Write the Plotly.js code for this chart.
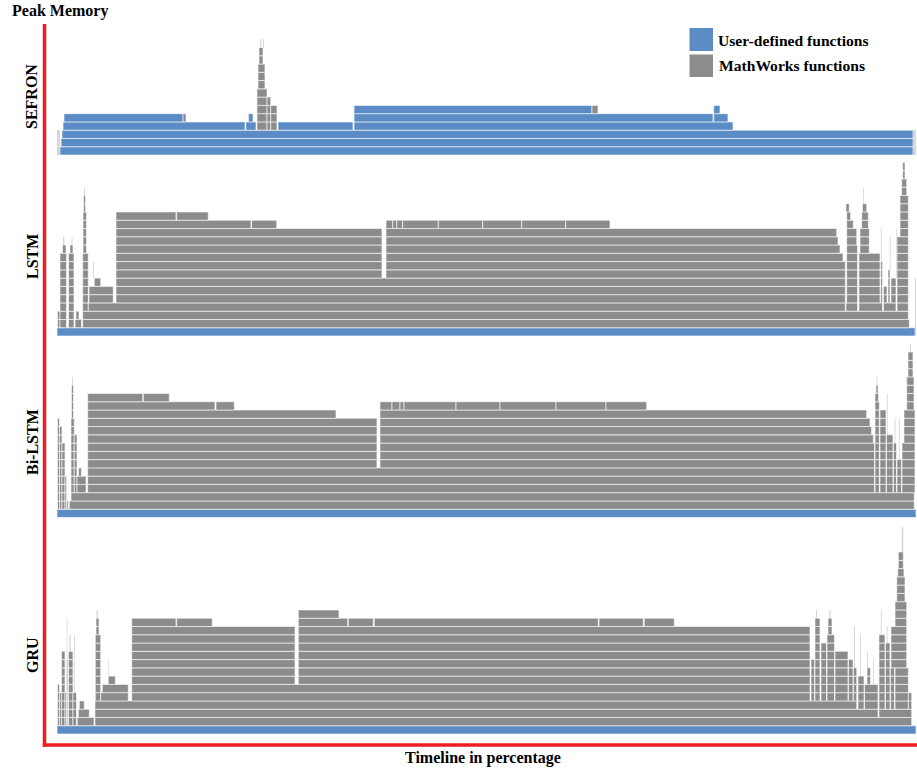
<!DOCTYPE html>
<html>
<head>
<meta charset="utf-8">
<script src="https://cdn.plot.ly/plotly-3.0.1.min.js"></script>
<style>
  html, body { margin: 0; padding: 0; background: #ffffff; }
  #chart { width: 917px; height: 769px; }
</style>
</head>
<body>
<div id="chart"></div>
<script>
// Memory flame graphs for four models.
// Every span is [startPct, endPct, lowestLevel, highestLevel]:
// a run of call-stack frames along the timeline (percent of run time),
// stacked from lowestLevel up to highestLevel.

const panelNames = ['SEFRON', 'LSTM', 'Bi-LSTM', 'GRU'];

// ---------- SEFRON ----------
const sefronUser = [
  [0.35, 99.65, 0, 0],
  [0.47, 99.65, 1, 1],
  [0.58, 99.65, 2, 2],
  [0.70, 21.89, 3, 3],
  [21.99, 23.17, 3, 3],
  [25.73, 34.46, 3, 3],
  [34.58, 78.70, 3, 3],
  [0.81, 14.67, 4, 4],
  [22.29, 22.82, 4, 4],
  [34.58, 76.37, 4, 4],
  [76.45, 78.11, 4, 4],
  [34.58, 62.28, 5, 5],
  [76.45, 77.18, 5, 5]
];
const sefronMath = [
  [14.67, 15.02, 4, 4],
  [62.28, 62.98, 5, 5],
  [23.28, 24.45, 3, 7],
  [23.40, 24.21, 8, 10],
  [23.52, 23.98, 11, 12],
  [24.45, 24.88, 3, 6],
  [24.88, 25.61, 3, 5]
];
const sefronFaint = [
  [0.00, 0.35, 0, 2],
  [99.65, 100, 0, 2],
  [23.65, 23.78, 13, 13],
  [23.98, 24.10, 13, 13]
];

// ---------- LSTM ----------
const lstmUser = [
  [0.00, 99.88, 0, 0]
];
const lstmMath = [
  [0.06, 0.35, 1, 2],
  [0.35, 1.11, 1, 9],
  [0.64, 1.05, 10, 10],
  [1.34, 1.98, 1, 9],
  [1.51, 1.86, 10, 10],
  [2.10, 2.85, 1, 1],
  [2.21, 2.56, 2, 2],
  [2.99, 99.22, 1, 1],
  [2.99, 99.11, 2, 2],
  [2.99, 3.64, 3, 9],
  [3.03, 3.43, 10, 14],
  [3.09, 3.32, 15, 16],
  [3.64, 91.77, 3, 3],
  [91.85, 93.19, 3, 3],
  [93.36, 96.10, 3, 3],
  [96.22, 97.67, 3, 3],
  [97.79, 99.11, 3, 3],
  [3.73, 6.55, 4, 5],
  [4.34, 5.09, 6, 6],
  [6.87, 91.77, 4, 6],
  [6.87, 37.83, 7, 12],
  [38.30, 91.77, 7, 8],
  [38.30, 91.50, 9, 9],
  [38.30, 91.15, 10, 10],
  [38.30, 90.92, 11, 11],
  [38.30, 90.77, 12, 12],
  [6.87, 22.58, 13, 13],
  [22.66, 25.58, 13, 13],
  [38.30, 39.08, 13, 13],
  [39.08, 39.55, 13, 13],
  [39.55, 40.24, 13, 13],
  [40.24, 44.39, 13, 13],
  [44.39, 49.56, 13, 13],
  [49.56, 54.10, 13, 13],
  [54.10, 59.22, 13, 13],
  [59.22, 64.38, 13, 13],
  [6.87, 13.85, 14, 14],
  [13.93, 17.61, 14, 14],
  [91.93, 93.19, 4, 10],
  [91.93, 93.10, 11, 12],
  [91.93, 92.70, 13, 13],
  [91.93, 92.39, 14, 14],
  [91.85, 92.23, 15, 15],
  [93.36, 95.81, 4, 9],
  [93.48, 94.56, 10, 12],
  [93.68, 94.45, 13, 14],
  [93.77, 94.26, 15, 15],
  [95.89, 96.10, 4, 8],
  [96.22, 96.62, 4, 5],
  [96.74, 96.97, 4, 7],
  [97.09, 97.67, 4, 6],
  [97.79, 99.11, 4, 11],
  [98.14, 99.11, 12, 16],
  [98.33, 98.92, 17, 18],
  [98.45, 98.72, 19, 20]
];
const lstmFaint = [
  [0.70, 0.85, 11, 11],
  [1.69, 1.80, 11, 11],
  [4.20, 4.30, 7, 8],
  [3.15, 3.25, 17, 17],
  [93.85, 93.95, 16, 17],
  [95.90, 96.00, 9, 12],
  [96.95, 97.05, 8, 11],
  [97.70, 97.80, 7, 12],
  [98.55, 98.65, 21, 21],
  [99.88, 100, 0, 6]
];

// ---------- Bi-LSTM ----------
const bilstmUser = [
  [0.00, 100, 0, 0]
];
const bilstmMath = [
  [0.06, 0.29, 1, 11],
  [0.29, 0.58, 1, 10],
  [0.58, 0.93, 1, 8],
  [0.93, 1.12, 1, 4],
  [1.16, 1.34, 1, 1],
  [1.43, 99.80, 1, 1],
  [1.63, 99.80, 2, 2],
  [1.63, 2.01, 3, 11],
  [1.69, 1.92, 12, 15],
  [2.01, 2.33, 3, 9],
  [2.33, 3.38, 3, 4],
  [2.50, 2.85, 5, 5],
  [3.57, 95.17, 3, 5],
  [3.57, 37.25, 6, 11],
  [37.60, 95.17, 6, 8],
  [37.60, 95.03, 9, 9],
  [37.60, 94.83, 10, 10],
  [37.60, 94.64, 11, 11],
  [3.57, 32.48, 12, 12],
  [37.60, 94.26, 12, 12],
  [3.57, 18.39, 13, 13],
  [18.51, 20.64, 13, 13],
  [37.60, 39.00, 13, 13],
  [39.00, 39.93, 13, 13],
  [39.93, 40.40, 13, 13],
  [40.40, 46.45, 13, 13],
  [46.45, 51.57, 13, 13],
  [51.57, 58.09, 13, 13],
  [58.09, 63.91, 13, 13],
  [63.91, 68.65, 13, 13],
  [3.57, 9.98, 14, 14],
  [10.05, 13.07, 14, 14],
  [95.23, 95.73, 3, 13],
  [95.23, 95.64, 14, 14],
  [95.34, 95.58, 15, 15],
  [95.81, 96.51, 3, 12],
  [96.57, 97.32, 3, 9],
  [97.38, 97.73, 3, 8],
  [97.79, 98.31, 3, 6],
  [98.37, 99.88, 3, 8],
  [98.60, 99.88, 9, 12],
  [98.92, 99.77, 13, 16],
  [99.07, 99.65, 17, 19]
];
const bilstmFaint = [
  [1.75, 1.85, 16, 16],
  [95.40, 95.50, 16, 16],
  [96.60, 96.70, 10, 14],
  [97.50, 97.60, 9, 11],
  [98.00, 98.10, 7, 11],
  [99.30, 99.42, 20, 20]
];

// ---------- GRU ----------
const gruUser = [
  [0.00, 100, 0, 0]
];
const gruMath = [
  [0.06, 0.29, 1, 5],
  [0.29, 0.52, 1, 4],
  [0.52, 0.93, 1, 9],
  [0.93, 1.11, 1, 4],
  [1.11, 1.25, 1, 8],
  [1.34, 1.86, 1, 9],
  [1.86, 2.27, 1, 4],
  [2.36, 4.31, 1, 1],
  [2.48, 3.76, 2, 2],
  [2.60, 3.18, 3, 3],
  [4.42, 99.50, 1, 1],
  [4.42, 95.58, 2, 2],
  [95.69, 99.50, 2, 2],
  [4.42, 93.10, 3, 3],
  [93.25, 93.95, 3, 6],
  [94.01, 95.58, 3, 5],
  [4.46, 5.09, 4, 11],
  [4.54, 4.89, 12, 13],
  [5.09, 8.30, 4, 4],
  [5.27, 8.30, 5, 5],
  [5.97, 6.79, 6, 6],
  [8.70, 87.66, 4, 5],
  [8.70, 27.71, 6, 12],
  [28.09, 87.66, 6, 12],
  [8.70, 13.85, 13, 13],
  [13.93, 18.08, 13, 13],
  [28.09, 33.84, 13, 13],
  [33.91, 36.82, 13, 13],
  [36.94, 63.01, 13, 13],
  [63.10, 68.25, 13, 13],
  [68.37, 71.86, 13, 13],
  [28.09, 32.83, 14, 14],
  [87.78, 88.18, 4, 8],
  [88.24, 88.82, 4, 13],
  [88.94, 89.58, 4, 10],
  [89.64, 90.51, 4, 11],
  [89.76, 90.22, 12, 13],
  [90.57, 92.08, 4, 9],
  [92.14, 92.67, 4, 8],
  [92.72, 93.10, 4, 7],
  [94.30, 94.70, 6, 7],
  [95.69, 96.39, 3, 11],
  [96.45, 96.97, 3, 10],
  [97.03, 97.50, 3, 7],
  [97.56, 99.11, 3, 7],
  [99.11, 99.50, 3, 4],
  [97.09, 98.92, 8, 12],
  [97.56, 98.92, 13, 15],
  [97.76, 98.72, 16, 18],
  [97.87, 98.60, 19, 19],
  [97.94, 98.52, 20, 21]
];
const gruFaint = [
  [1.14, 1.22, 9, 13],
  [1.45, 1.60, 10, 11],
  [2.00, 2.10, 5, 11],
  [4.60, 4.75, 14, 14],
  [5.93, 6.00, 7, 8],
  [88.36, 88.48, 14, 14],
  [89.90, 90.05, 14, 14],
  [92.78, 92.90, 8, 12],
  [93.50, 93.60, 7, 11],
  [94.30, 94.40, 8, 9],
  [95.00, 95.10, 6, 8],
  [95.90, 96.00, 12, 14],
  [96.60, 96.70, 11, 12],
  [98.33, 98.52, 22, 24]
];

const userSpans  = [sefronUser, lstmUser, bilstmUser, gruUser];
const mathSpans  = [sefronMath, lstmMath, bilstmMath, gruMath];
const faintSpans = [sefronFaint, lstmFaint, bilstmFaint, gruFaint];

// ---------- styling / geometry ----------
const USER_COLOR = '#5b8cc6';
const MATH_COLOR = '#8c8c8c';
const FAINT_COLOR = '#d6d6d6';
const AXIS_RED = '#ed1c24';
const SERIF = "'Liberation Serif', 'Times New Roman', Times, serif";

const W = 917, H = 769;
const M = { l: 44, r: 1, t: 0, b: 0 };
const plotW = W - M.l - M.r;
const ROW_PX = 8.27;                      // height of one stack level
const panelFloorPx = [155, 336, 517.5, 734];
const panelDepth = [16, 21, 21, 25];
const labelCenterPx = [97, 257, 442, 655];

const px = v => (v - M.l) / plotW;        // page x -> paper x
const py = v => 1 - v / H;                // page y -> paper y

function expand(spans) {
  const y = [], base = [], len = [];
  spans.forEach(([a, b, lo, hi]) => {
    for (let k = lo; k <= hi; k++) {
      y.push(k + 0.5);
      base.push(a);
      len.push(b - a);
    }
  });
  return { y, base, len };
}

function barTrace(spans, axisIdx, color, outlined) {
  const d = expand(spans);
  return {
    type: 'bar',
    orientation: 'h',
    x: d.len,
    base: d.base,
    y: d.y,
    width: 1,
    xaxis: 'x',
    yaxis: axisIdx === 0 ? 'y' : 'y' + (axisIdx + 1),
    marker: {
      color: color,
      line: outlined ? { color: 'rgba(255,255,255,0.6)', width: 1 } : { width: 0 }
    },
    hoverinfo: 'skip',
    showlegend: false
  };
}

const traces = [];
panelNames.forEach((name, i) => {
  traces.push(barTrace(userSpans[i], i, USER_COLOR, true));
  traces.push(barTrace(mathSpans[i], i, MATH_COLOR, true));
  traces.push(barTrace(faintSpans[i], i, FAINT_COLOR, false));
});

const layout = {
  width: W,
  height: H,
  margin: M,
  paper_bgcolor: '#ffffff',
  plot_bgcolor: '#ffffff',
  barmode: 'overlay',
  showlegend: false,
  xaxis: {
    range: [-13 / 8.59, 100],
    domain: [0, 1],
    visible: false,
    fixedrange: true
  },
  shapes: [],
  annotations: []
};

panelNames.forEach((name, i) => {
  const floor = panelFloorPx[i];
  const top = floor - panelDepth[i] * ROW_PX;
  layout[i === 0 ? 'yaxis' : 'yaxis' + (i + 1)] = {
    domain: [py(floor), py(top)],
    range: [0, panelDepth[i]],
    anchor: 'x',
    visible: false,
    fixedrange: true
  };
  layout.annotations.push({
    text: '<b>' + name + '</b>',
    xref: 'paper', yref: 'paper',
    x: px(32), y: py(labelCenterPx[i]),
    xanchor: 'center', yanchor: 'middle',
    textangle: -90,
    showarrow: false,
    font: { family: SERIF, size: 16, color: '#000000' }
  });
});

// red axis frame
layout.shapes.push(
  { type: 'line', xref: 'paper', yref: 'paper', x0: px(44.5), x1: px(44.5), y0: py(24), y1: py(746.5),
    line: { color: AXIS_RED, width: 3.5 } },
  { type: 'line', xref: 'paper', yref: 'paper', x0: px(42.8), x1: px(917), y0: py(745), y1: py(745),
    line: { color: AXIS_RED, width: 3.5 } }
);

// legend swatches
layout.shapes.push(
  { type: 'rect', xref: 'paper', yref: 'paper', x0: px(689.5), x1: px(713), y0: py(51), y1: py(28),
    fillcolor: USER_COLOR, line: { width: 0 } },
  { type: 'rect', xref: 'paper', yref: 'paper', x0: px(689.5), x1: px(713), y0: py(77), y1: py(54.5),
    fillcolor: MATH_COLOR, line: { width: 0 } }
);

layout.annotations.push(
  { text: '<b>User-defined functions</b>', xref: 'paper', yref: 'paper',
    x: px(716), y: py(40), xanchor: 'left', yanchor: 'middle', showarrow: false,
    font: { family: SERIF, size: 15.6, color: '#000000' } },
  { text: '<b>MathWorks functions</b>', xref: 'paper', yref: 'paper',
    x: px(717), y: py(66), xanchor: 'left', yanchor: 'middle', showarrow: false,
    font: { family: SERIF, size: 15.6, color: '#000000' } },
  { text: '<b>Peak Memory</b>', xref: 'paper', yref: 'paper',
    x: px(10), y: py(11), xanchor: 'left', yanchor: 'middle', showarrow: false,
    font: { family: SERIF, size: 16, color: '#000000' } },
  { text: '<b>Timeline in percentage</b>', xref: 'paper', yref: 'paper',
    x: px(483), y: py(758), xanchor: 'center', yanchor: 'middle', showarrow: false,
    font: { family: SERIF, size: 16, color: '#000000' } }
);

Plotly.newPlot('chart', traces, layout, { displayModeBar: false, staticPlot: true });
</script>
</body>
</html>
